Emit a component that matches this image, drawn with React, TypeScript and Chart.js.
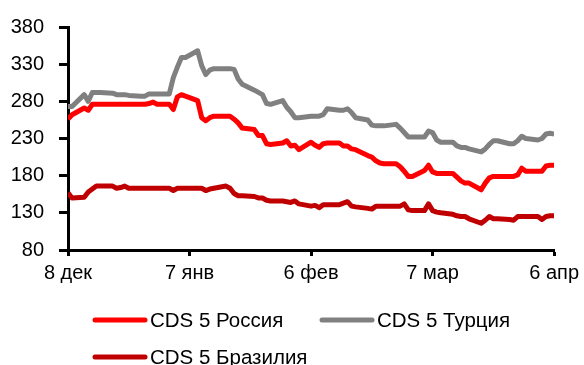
import React, { useEffect, useRef } from "react";
import { Chart, registerables } from "chart.js";

Chart.register(...registerables);

// Business-day dates, 8 Dec 2011 .. 6 Apr 2012 (x = days since 8 Dec)
const START = new Date(2011, 11, 8);
const END = new Date(2012, 3, 6);
const tickLabels = ["8 дек", "7 янв", "6 фев", "7 мар", "6 апр"];
const tickDays = [0, 30, 60, 90, 120];

const russia = [
  256, 262,
  271, 268, 276, 276, 276,
  276, 276, 276, 276, 276,
  276, 276, 277, 279, 276,
  276, 269, 286, 289, 287,
  281, 258, 254, 258, 260,
  260, 260, 256, 251, 244,
  242, 234, 234, 223, 222,
  224, 227, 220, 221, 215,
  225, 221, 218, 223, 224,
  224, 220, 220, 216, 215,
  207, 205, 200, 197, 196,
  196, 192, 186, 179, 179,
  187, 194, 185, 183, 183,
  183, 178, 173, 170, 170,
  161, 170, 177, 179, 179,
  179, 179, 181, 190, 186,
  186, 186, 193, 194, 194,
];

const turkey = [
  273, 273,
  289, 280, 292, 292, 292,
  291, 289, 289, 289, 288,
  287, 287, 290, 290, 290,
  290, 312, 326, 339, 339,
  348, 328, 316, 322, 324,
  324, 324, 323, 310, 303,
  295, 292, 289, 277, 276,
  281, 272, 266, 258, 258,
  260, 260, 260, 262, 270,
  268, 268, 270, 265, 258,
  255, 248, 247, 247, 247,
  249, 244, 238, 232, 232,
  232, 240, 238, 228, 225,
  225, 220, 218, 218, 216,
  212, 216, 222, 227, 227,
  223, 223, 227, 233, 230,
  228, 230, 236, 237, 236,
];

const brazil = [
  157, 150,
  151, 158, 162, 166, 166,
  166, 163, 164, 166, 163,
  163, 163, 163, 163, 163,
  163, 160, 163, 163, 163,
  163, 163, 160, 162, 163,
  166, 163, 156, 153, 153,
  152, 150, 150, 147, 146,
  146, 145, 144, 146, 142,
  139, 140, 137, 141, 141,
  141, 143, 145, 139, 138,
  136, 135, 139, 139, 139,
  139, 139, 142, 134, 133,
  133, 142, 133, 131, 130,
  128, 126, 125, 125, 122,
  116, 120, 125, 122, 122,
  121, 120, 125, 125, 125,
  125, 121, 125, 126, 126,
];

const seriesNames = ["CDS 5 Россия", "CDS 5 Турция", "CDS 5 Бразилия"];
const seriesColors = ["#FF0000", "#808080", "#C00000"];

function businessDays(): number[] {
  const out: number[] = [];
  const d = new Date(START);
  while (d <= END) {
    const wd = d.getDay();
    if (wd !== 0 && wd !== 6) {
      out.push(Math.round((d.getTime() - START.getTime()) / 86400000));
    }
    d.setDate(d.getDate() + 1);
  }
  return out;
}

const FONT = "'Liberation Sans', Arial, sans-serif";

export default function App() {
  const ref = useRef<HTMLCanvasElement>(null);
  useEffect(() => {
    document.body.style.margin = "0";
    const days = businessDays();
    const mk = (vals: number[]) => vals.map((v, i) => ({ x: days[i], y: v }));
    const legendPlugin = {
      id: "customLegend",
      afterDraw(chart: any) {
        const ctx = chart.ctx;
        const items = [
          { x: 95, y: 320, i: 0 },
          { x: 322, y: 320, i: 1 },
          { x: 95, y: 357, i: 2 },
        ];
        ctx.save();
        ctx.font = `20.5px ${FONT}`;
        ctx.textBaseline = "middle";
        ctx.textAlign = "left";
        for (const it of items) {
          ctx.strokeStyle = seriesColors[it.i];
          ctx.lineWidth = 5;
          ctx.lineCap = "round";
          ctx.beginPath();
          ctx.moveTo(it.x, it.y);
          ctx.lineTo(it.x + 50, it.y);
          ctx.stroke();
          ctx.fillStyle = "#000";
          ctx.fillText(seriesNames[it.i], it.x + 55, it.y + 1);
        }
        ctx.restore();
      },
    };
    const chart = new Chart(ref.current!, {
      type: "line",
      data: {
        datasets: [russia, turkey, brazil].map((vals, i) => ({
          label: seriesNames[i],
          data: mk(vals),
          borderColor: seriesColors[i],
          backgroundColor: seriesColors[i],
          borderWidth: 5,
          pointRadius: 0,
          tension: 0,
          borderJoinStyle: "round" as const,
        })),
      },
      options: {
        animation: false,
        responsive: false,
        maintainAspectRatio: false,
        layout: { padding: { left: 0, right: 28, top: 22, bottom: 75 } },
        plugins: { legend: { display: false }, tooltip: { enabled: false } },
        scales: {
          x: {
            type: "linear",
            min: 0,
            max: 120,
            afterBuildTicks: (s: any) => {
              s.ticks = tickDays.map((v) => ({ value: v }));
            },
            afterFit: (s: any) => {
              s.height = 40;
            },
            ticks: {
              callback: (v: any) => {
                const k = tickDays.indexOf(Number(v));
                return k >= 0 ? tickLabels[k] : "";
              },
              color: "#000",
              font: { family: FONT, size: 20 },
              padding: 5,
              maxRotation: 0,
              autoSkip: false,
            },
            grid: {
              display: true,
              drawOnChartArea: false,
              drawTicks: true,
              tickLength: 6,
              tickColor: "#000",
              tickWidth: 3,
            },
            border: { display: true, color: "#000", width: 3 },
          },
          y: {
            min: 80,
            max: 380,
            afterFit: (s: any) => {
              s.width = 68;
            },
            ticks: {
              stepSize: 50,
              color: "#000",
              font: { family: FONT, size: 20 },
              padding: 15,
            },
            grid: {
              display: true,
              drawOnChartArea: false,
              drawTicks: true,
              tickLength: 9,
              tickColor: "#000",
              tickWidth: 3,
            },
            border: { display: true, color: "#000", width: 3 },
          },
        },
      },
      plugins: [legendPlugin],
    });
    return () => chart.destroy();
  }, []);
  return <canvas ref={ref} width={584} height={365} style={{ display: "block" }} />;
}
